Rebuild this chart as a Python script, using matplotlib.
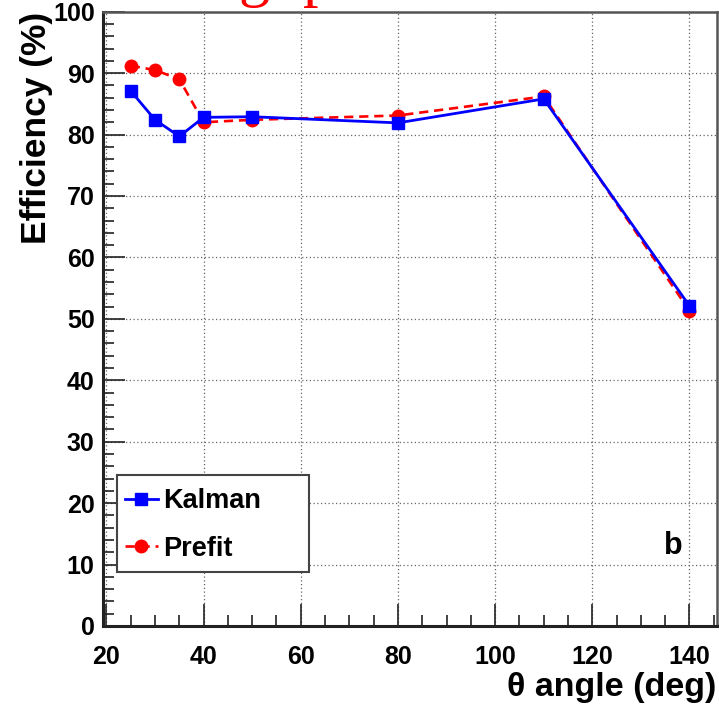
import matplotlib
matplotlib.use("Agg")
import matplotlib.pyplot as plt
from matplotlib.patches import Rectangle
from matplotlib.ticker import MultipleLocator

# efficiency vs polar angle, two tracking stages
angles = [25, 30, 35, 40, 50, 80, 110, 140]
kalman = [87.1, 82.4, 79.7, 82.8, 82.9, 81.9, 85.8, 52.1]
prefit = [91.2, 90.5, 89.0, 82.0, 82.4, 83.1, 86.2, 51.3]

plt.rcParams["font.family"] = ["Liberation Sans", "DejaVu Sans"]
plt.rcParams["font.weight"] = "bold"

fig = plt.figure(figsize=(7.19, 7.04), dpi=100)
ax = fig.add_axes([0.1433, 0.1108, 0.8535, 0.8726])

ax.plot(angles, prefit, color="#ff0000", linestyle=(0, (3.5, 2.2)), linewidth=1.9,
        marker="o", markersize=9, label="Prefit", zorder=3)
ax.plot(angles, kalman, color="#0000ff", linestyle="-", linewidth=2.0,
        marker="s", markersize=9, label="Kalman", zorder=4)

ax.set_xlim(19.3, 145.6)
ax.set_ylim(0, 100)
ax.xaxis.set_major_locator(MultipleLocator(20))
ax.xaxis.set_minor_locator(MultipleLocator(5))
ax.yaxis.set_major_locator(MultipleLocator(10))
ax.yaxis.set_minor_locator(MultipleLocator(2))
ax.tick_params(which="both", direction="in", top=False, right=False,
               labelsize=18, width=1.2, color="#222222")
ax.tick_params(which="major", length=16)
ax.tick_params(which="minor", length=8)
ax.tick_params(axis="x", pad=14)
ax.tick_params(axis="y", pad=6)
for lab in ax.get_xticklabels() + ax.get_yticklabels():
    lab.set_fontweight("bold")

ax.grid(which="major", color="#666666", linestyle=(0, (1, 2)), linewidth=0.9)
ax.set_axisbelow(True)
for side in ["left", "bottom"]:
    ax.spines[side].set_linewidth(2.2)
    ax.spines[side].set_color("#222222")
for side in ["top", "right"]:
    ax.spines[side].set_linewidth(1.8)
    ax.spines[side].set_color("#555555")

ax.set_xlabel("θ angle (deg)", fontsize=24.5, fontweight="bold", loc="right",
              labelpad=2)
ax.set_ylabel("Efficiency (%)", fontsize=25.5, fontweight="bold", loc="top",
              labelpad=0)

# ROOT-style legend: wide box with the entries pushed to the left
ax.add_patch(Rectangle((0.0228, 0.0879), 0.3129, 0.1579, transform=ax.transAxes,
                       facecolor="white", edgecolor="#444444", linewidth=1.5,
                       zorder=5))
handles, labels = ax.get_legend_handles_labels()
leg = ax.legend(handles[::-1], labels[::-1], loc="upper left",
                bbox_to_anchor=(0.0358, 0.224), fontsize=19.5, frameon=False,
                handlelength=1.2, borderpad=0, labelspacing=0.78,
                handletextpad=0.2, borderaxespad=0)
leg.set_zorder(6)
for t in leg.get_texts():
    t.set_fontweight("bold")

ax.text(0.93, 0.13, "b", transform=ax.transAxes, fontsize=22,
        fontweight="bold", ha="center", va="center")

# clipped red title remnants at the very top of the image
fig.text(238 / 719, 1.0092, "g", color="#ff0000", fontsize=45,
         family="Liberation Serif", fontweight="normal", va="baseline")
fig.text(303 / 719, 1.0092, "p", color="#ff0000", fontsize=45,
         family="Liberation Serif", fontweight="normal", va="baseline")

fig.savefig("out.png", dpi=100)
